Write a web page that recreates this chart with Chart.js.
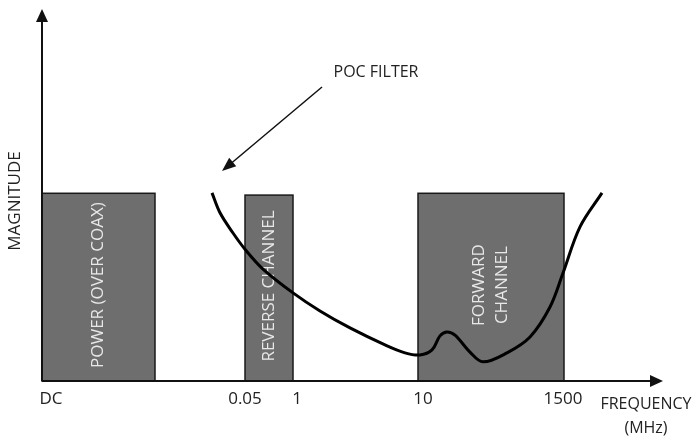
<!DOCTYPE html>
<html>
<head>
<meta charset="utf-8">
<script src="https://cdn.jsdelivr.net/npm/chart.js@4.4.0/dist/chart.umd.min.js"></script>
<style>
  html, body { margin: 0; padding: 0; background: #fff; }
</style>
</head>
<body>
<canvas id="pocChart" width="693" height="437"></canvas>
<script>
// Frequency bands (x in arbitrary band units, y in relative magnitude)
const bandNames = [['POWER (OVER COAX)'], ['REVERSE CHANNEL'], ['FORWARD', 'CHANNEL']];
const bandStart = [0, 203, 376];
const bandEnd = [113, 251, 522];
const bandLevel = [52, 51.5, 52];

// Frequency tick labels
const tickLabels = ['DC', '0.05', '1', '10', '1500'];
const tickPos = [9, 203, 255, 381, 521];

// POC filter response curve
const filterX = [170, 178, 191, 203, 221, 251, 278, 308, 343, 363, 378, 390, 398, 405, 413, 428, 441, 465, 488, 508, 521, 538, 560];
const filterY = [52.1, 46.6, 41.0, 36.5, 31.0, 24.4, 19.4, 14.7, 10.0, 7.8, 7.2, 8.6, 12.5, 13.6, 12.7, 8.0, 5.3, 7.8, 12.2, 20.5, 29.9, 42.7, 52.1];

const FONT = '"Open Sans", "Noto Sans", sans-serif';

function arrowHead(ctx, x1, y1, x2, y2, len, half) {
    const a = Math.atan2(y2 - y1, x2 - x1);
    ctx.beginPath();
    ctx.moveTo(x2, y2);
    ctx.lineTo(x2 - len * Math.cos(a) + half * Math.sin(a), y2 - len * Math.sin(a) - half * Math.cos(a));
    ctx.lineTo(x2 - len * Math.cos(a) - half * Math.sin(a), y2 - len * Math.sin(a) + half * Math.cos(a));
    ctx.closePath();
    ctx.fill();
}

// bars + their rotated labels, drawn under the curve
const bandsPlugin = {
    id: 'bands',
    beforeDatasetsDraw(chart) {
        const { ctx, scales: { x, y } } = chart;
        ctx.save();
        bandNames.forEach((name, i) => {
            const x0 = x.getPixelForValue(bandStart[i]);
            const x1 = x.getPixelForValue(bandEnd[i]);
            const y0 = y.getPixelForValue(0);
            const y1 = y.getPixelForValue(bandLevel[i]);
            ctx.fillStyle = '#6e6e6e';
            ctx.fillRect(x0, y1, x1 - x0, y0 - y1);
            ctx.strokeStyle = '#1a1a1a';
            ctx.lineWidth = 1.5;
            ctx.strokeRect(x0, y1, x1 - x0, y0 - y1);

            ctx.save();
            ctx.translate((x0 + x1) / 2, (y0 + y1) / 2 - 2);
            ctx.rotate(-Math.PI / 2);
            ctx.fillStyle = '#e8e8e8';
            ctx.font = '17px ' + FONT;
            ctx.textAlign = 'center';
            ctx.textBaseline = 'middle';
            const lh = 23;
            name.forEach((line, j) => {
                ctx.fillText(line, 0, (j - (name.length - 1) / 2) * lh);
            });
            ctx.restore();
        });
        ctx.restore();
    }
};

// axes with arrows, tick labels, titles and the POC FILTER callout
const axesPlugin = {
    id: 'axes',
    afterDraw(chart) {
        const { ctx, chartArea, scales: { x, y } } = chart;
        const ox = chartArea.left, oy = chartArea.bottom;
        ctx.save();
        ctx.strokeStyle = '#111';
        ctx.fillStyle = '#111';
        ctx.lineWidth = 2;
        ctx.beginPath();
        ctx.moveTo(ox, oy);
        ctx.lineTo(ox, chartArea.top - 1);
        ctx.moveTo(ox, oy);
        ctx.lineTo(chartArea.right + 1, oy);
        ctx.stroke();
        arrowHead(ctx, ox, oy, ox, chartArea.top - 11, 13, 6);
        arrowHead(ctx, ox, oy, chartArea.right + 11, oy, 13, 6);

        ctx.fillStyle = '#222';
        ctx.font = '17px ' + FONT;
        ctx.textAlign = 'center';
        ctx.textBaseline = 'middle';
        tickLabels.forEach((t, i) => {
            ctx.fillText(t, x.getPixelForValue(tickPos[i]), oy + 18);
        });

        ctx.save();
        ctx.translate(15, 201);
        ctx.rotate(-Math.PI / 2);
        ctx.fillText('MAGNITUDE', 0, 0);
        ctx.restore();

        ctx.font = '16px ' + FONT;
        ctx.fillText('FREQUENCY', 646, oy + 23);
        ctx.fillText('(MHz)', 646, oy + 47);
        ctx.fillText('POC FILTER', 376, 72);

        ctx.lineWidth = 1.5;
        ctx.beginPath();
        ctx.moveTo(322, 87);
        ctx.lineTo(228, 166);
        ctx.stroke();
        ctx.fillStyle = '#111';
        arrowHead(ctx, 322, 87, 222, 171, 14, 5.5);
        ctx.restore();
    }
};

const ctx = document.getElementById('pocChart').getContext('2d');
new Chart(ctx, {
    type: 'line',
    data: {
        datasets: [{
            label: 'POC FILTER',
            data: filterX.map((v, i) => ({ x: v, y: filterY[i] })),
            borderColor: '#000',
            borderWidth: 3,
            pointRadius: 0,
            fill: false,
            tension: 0.35
        }]
    },
    options: {
        responsive: false,
        animation: false,
        layout: { padding: { left: 42, right: 41, top: 20, bottom: 56 } },
        scales: {
            x: { type: 'linear', min: 0, max: 610, display: false },
            y: { min: 0, max: 100, display: false }
        },
        plugins: {
            legend: { display: false },
            tooltip: { enabled: false }
        }
    },
    plugins: [bandsPlugin, axesPlugin]
});
</script>
</body>
</html>
